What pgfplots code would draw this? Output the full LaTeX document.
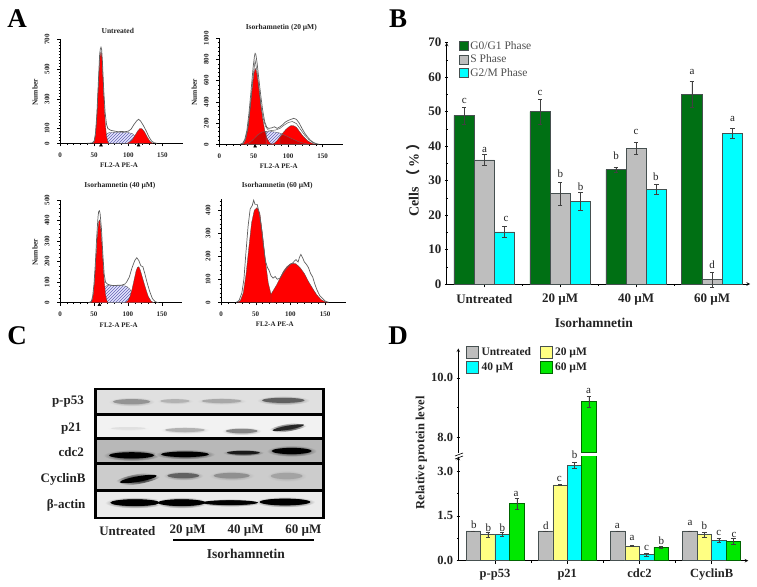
\documentclass[border=0pt]{standalone}
\usepackage{fontspec}
\setmainfont{Liberation Serif}
\newfontfamily\cjk{Noto Sans CJK SC}
\usepackage{pgfplots}
\pgfplotsset{compat=1.18}
\usetikzlibrary{patterns}
\newcommand\fs[1]{\fontsize{#1}{#1}\selectfont}
\definecolor{barG}{RGB}{0,112,20}
\definecolor{barS}{RGB}{190,190,190}
\definecolor{barC}{RGB}{0,255,255}
\definecolor{barY}{RGB}{255,255,130}
\definecolor{barL}{RGB}{0,232,0}
\definecolor{edge}{RGB}{70,80,80}
\definecolor{hatch}{RGB}{100,100,180}
\definecolor{txt}{RGB}{35,35,35}

\pgfplotsset{
  flow/.style={
    scale only axis, clip=false,
    axis x line=bottom, axis y line=left, axis line style={-,black,line width=.5pt},
    xmin=0, xmax=180, xtick={0,50,100,150}, minor x tick num=4,
    tick align=outside, major tick length=3pt, minor tick length=1.5pt,
    tick style={black,line width=.4pt},
    ymin=0,
    tick label style={font=\fs{7}\bfseries,text=txt},
    xticklabel style={yshift=-3pt},
    yticklabel style={rotate=90,anchor=south,yshift=4pt},
    /pgf/number format/assume math mode=true,
    /pgf/number format/1000 sep={},
    xlabel={FL2-A PE-A},
    xlabel style={font=\fs{7}\bfseries,text=txt,at={(rel axis cs:0.48,0)},anchor=center,yshift=-22pt},
    ylabel style={font=\fs{7.5}\bfseries,text=txt,at={(rel axis cs:0,0.49)},anchor=center,yshift=25pt},
    title style={font=\fs{7.5}\bfseries,text=txt,at={(rel axis cs:0.47,1)},anchor=center,yshift=3pt},
  },
  outline/.style={gray!75!black,line width=.7pt},
  redpk/.style={fill=red,draw=black!70,line width=.3pt},
  sband/.style={pattern=north east lines,pattern color=hatch,draw=black!70,line width=.3pt},
  sunder/.style={fill=blue!10,draw=none},
  stint/.style={fill=black,fill opacity=.16,draw=black!60,line width=.3pt},
  tri/.style={only marks,mark=triangle*,mark size=1.7pt,black},
  barax/.style={
    scale only axis, axis line style={-,black,line width=.6pt},
    tick align=outside, major tick length=3.5pt, minor tick length=2pt,
    tick style={black,line width=.5pt},
    tick label style={font=\fs{13}\bfseries,text=txt},
    /pgf/number format/assume math mode=true,
  },
  ebar/.style={error bars/.cd,y dir=both,y explicit,
    error bar style={gray!50!black,line width=.4pt},
    error mark options={rotate=90,mark size=2.2pt,gray!50!black,line width=.4pt}},
}
\newcommand\ltr[3]{\node[font=\fs{11},text=txt] at (axis cs:#1,#2) {#3};}
\newcommand\band[7]{%
  \shade[rotate around={#5:(#1,#2)},inner color=#6,outer color=#7] (#1,#2) ellipse (#3 and #4);
  \fill[rotate around={#5:(#1,#2)},#6] (#1,#2) ellipse ({0.8*#3} and {0.55*#4});}

\begin{document}
\begin{tikzpicture}[x=1pt,y=1pt]
\useasboundingbox (0,0) rectangle (757pt,586pt);

% A: flow histograms
\begin{axis}[flow,at={(60pt,442.7pt)},anchor=south west,width=123pt,height=103.8pt,
  ymax=700,ytick={0,100,300,500,700},minor ytick={0,20,...,700},title={Untreated},ylabel={Number}]
\addplot[sunder] coordinates {(62,0)(64,10)(66,35)(68,62)(72,72)(80,74)(90,74)(100,72)(106,65)(110,45)(114,20)(118,5)(122,0)} \closedcycle;
\addplot[sband] coordinates {(62,0)(64,10)(66,35)(68,62)(72,72)(80,74)(90,74)(100,72)(106,65)(110,45)(114,20)(118,5)(122,0)} \closedcycle;
\addplot[redpk] coordinates {(48,0)(50,10)(52,60)(54,190)(56,380)(58,560)(59.5,610)(60,617)(61,600)(62,520)(64,320)(66,150)(68,50)(70,10)(72,0)} \closedcycle;
\addplot[redpk] coordinates {(98,0)(102,8)(106,25)(110,55)(114,85)(117,100)(120,98)(124,75)(128,40)(132,12)(136,0)} \closedcycle;
\addplot[outline] coordinates {(40,0)(47,2)(50,15)(52,70)(54,200)(56,400)(58,600)(59,635)(60,648)(61,630)(62,560)(64,360)(66,210)(68,130)(70,100)(74,88)(80,82)(85,78)(90,80)(95,78)(100,82)(104,95)(108,125)(112,150)(115,162)(118,150)(122,120)(126,85)(130,45)(134,15)(138,3)(142,0)};
\addplot[tri] coordinates {(60,-13)(115,-13)};
\end{axis}

\begin{axis}[flow,at={(219.3pt,441.7pt)},anchor=south west,width=124pt,height=106pt,
  ymax=1000,ytick={0,200,...,1000},minor ytick={0,40,...,1000},title={Isorhamnetin (20 µM)},ylabel={Number},
  title style={at={(rel axis cs:0.5,1)},yshift=2pt}]
\addplot[sunder] coordinates {(38,0)(44,15)(50,50)(56,90)(62,115)(68,122)(75,120)(85,112)(92,95)(100,70)(108,45)(116,22)(124,8)(130,0)} \closedcycle;
\addplot[sband] coordinates {(38,0)(44,15)(50,50)(56,90)(62,115)(68,122)(75,120)(85,112)(92,95)(100,70)(108,45)(116,22)(124,8)(130,0)} \closedcycle;
\addplot[redpk] coordinates {(32,0)(35,5)(38,40)(41,130)(44,290)(47,480)(50,660)(52,717)(54,690)(57,560)(60,390)(63,240)(66,130)(69,60)(72,25)(75,5)(78,0)} \closedcycle;
\addplot[redpk] coordinates {(76,0)(80,10)(84,35)(88,70)(92,105)(96,135)(100,160)(104,176)(108,175)(112,160)(116,125)(120,90)(124,60)(128,35)(132,18)(136,6)(140,0)} \closedcycle;
\addplot[stint] coordinates {(38,0)(44,15)(50,50)(56,90)(62,115)(68,122)} \closedcycle;
\addplot[stint] coordinates {(88,70)(92,95)(100,70)(108,45)(116,22)(124,8)(130,0)} \closedcycle;
\addplot[gray!70!black,line width=.5pt] coordinates {(34,8)(38,50)(42,170)(46,420)(49,640)(52,790)(55,680)(58,500)(61,340)(64,240)(67,170)(71,135)(76,130)(82,135)(88,150)(94,180)(100,205)(106,215)(112,195)(118,140)(124,85)(130,45)(136,15)(142,0)};
\addplot[outline] coordinates {(30,0)(34,10)(37,45)(40,130)(43,290)(46,500)(49,720)(51,830)(52,858)(53,850)(55,760)(57,640)(60,470)(63,320)(66,210)(69,160)(72,150)(76,155)(80,165)(84,150)(88,165)(92,185)(96,210)(100,225)(104,235)(108,245)(112,235)(116,200)(120,150)(124,105)(128,70)(132,40)(136,20)(140,8)(145,0)};
\addplot[tri] coordinates {(52,-19)};
\end{axis}

\begin{axis}[flow,at={(60pt,283.3pt)},anchor=south west,width=122.3pt,height=102.7pt,
  ymax=500,ytick={0,100,...,500},minor ytick={0,20,...,500},title={Isorhamnetin (40 µM)},ylabel={Number},
  title style={at={(rel axis cs:0.49,1)},yshift=5pt}]
\addplot[sunder] coordinates {(58,0)(60,15)(62,50)(65,78)(70,84)(80,84)(90,84)(98,80)(103,65)(107,40)(112,18)(117,5)(122,0)} \closedcycle;
\addplot[sband] coordinates {(58,0)(60,15)(62,50)(65,78)(70,84)(80,84)(90,84)(98,80)(103,65)(107,40)(112,18)(117,5)(122,0)} \closedcycle;
\addplot[redpk] coordinates {(44,0)(47,8)(49,40)(51,110)(53,220)(55,330)(57,395)(58,403)(59,395)(61,320)(63,210)(65,110)(67,40)(69,10)(71,0)} \closedcycle;
\addplot[redpk] coordinates {(96,0)(100,10)(103,30)(106,65)(109,110)(112,155)(114,172)(116,175)(118,160)(122,115)(126,70)(130,30)(134,8)(138,0)} \closedcycle;
\addplot[outline] coordinates {(42,0)(46,6)(48,30)(50,90)(52,190)(54,320)(56,420)(57,445)(58,448)(59,435)(61,360)(63,240)(65,140)(67,100)(70,90)(75,85)(80,83)(85,85)(90,85)(95,90)(98,100)(102,125)(106,170)(110,205)(113,219)(116,205)(119,180)(122,175)(125,140)(128,100)(132,55)(136,20)(140,5)(145,0)};
\addplot[tri] coordinates {(58,-10)};
\end{axis}

\begin{axis}[flow,at={(221pt,283.7pt)},anchor=south west,width=125pt,height=103pt,
  ymax=447,ytick={0,100,...,400},minor ytick={0,20,...,440},title={Isorhamnetin (60 µM)},
  title style={at={(rel axis cs:0.45,1)},yshift=5pt},
  xlabel style={at={(rel axis cs:0.43,0)}}]
\addplot[redpk] coordinates {(24,0)(28,8)(32,40)(36,120)(40,235)(44,345)(48,400)(52,411)(56,385)(60,290)(64,180)(68,85)(72,35)(74,20)(76,0)} \closedcycle;
\addplot[redpk] coordinates {(72,0)(72,35)(76,55)(80,75)(85,105)(90,135)(95,155)(100,167)(104,169)(108,167)(114,150)(120,125)(126,90)(132,60)(138,32)(144,12)(150,2)(154,0)} \closedcycle;
\addplot[outline] coordinates {(22,0)(26,8)(30,40)(33,100)(36,220)(39,330)(42,405)(45,420)(47,443)(49,425)(52,425)(55,390)(58,330)(61,250)(64,180)(67,150)(69,140)(72,115)(75,105)(78,112)(81,100)(85,105)(90,130)(95,150)(100,165)(103,170)(106,180)(108,185)(111,175)(113,195)(115,208)(118,190)(120,175)(123,165)(126,150)(129,125)(132,110)(135,80)(138,55)(142,30)(146,17)(150,5)(155,0)};
\end{axis}

% B: cell cycle bars
\begin{axis}[barax,clip=false,at={(446.7pt,302pt)},anchor=south west,width=303.3pt,height=241.3pt,
  axis x line=bottom,axis y line=left,
  xmin=-0.496,xmax=3.5,ymin=0,ymax=70,
  xtick={0,1,2,3},xticklabels={Untreated,20 µM,40 µM,60 µM},minor x tick num=1,
  ytick={0,10,...,70},minor y tick num=1,
  ybar=0pt,bar width=20.25pt,
  xticklabel style={yshift=-3pt},
  xlabel={Isorhamnetin},ylabel={Cells {\cjk （}\,\%\,{\cjk ）}},
  xlabel style={font=\fs{13.5}\bfseries,text=txt,at={(rel axis cs:0.485,0)},anchor=center,yshift=-39pt},
  ylabel style={font=\fs{14}\bfseries,text=txt,at={(rel axis cs:0,0.444)},anchor=center,yshift=33.5pt},
  legend style={at={(axis cs:-0.34,70.7)},anchor=north west,draw=none,fill=none,
    font=\fs{11.5},text=txt!80,inner sep=0pt,outer sep=0pt,row sep=2pt,
    nodes={inner xsep=2pt,inner ysep=1pt}},
  legend cell align=left,
  legend image code/.code={\draw[#1] (0pt,-4.6pt) rectangle (9.3pt,4.6pt);},
]
\addplot[fill=barG,draw=edge,line width=.5pt,ebar] coordinates {(0,48.9)+-(0,2.4) (1,50)+-(0,3.5) (2,33.2)+-(0,0.7) (3,55)+-(0,3.7)};
\addplot[fill=barS,draw=edge,line width=.5pt,ebar] coordinates {(0,36)+-(0,1.6) (1,26.2)+-(0,3.2) (2,39.3)+-(0,1.7) (3,1.3)+-(0,2.1)};
\addplot[fill=barC,draw=edge,line width=.5pt,ebar] coordinates {(0,15.1)+-(0,1.6) (1,23.9)+-(0,2.6) (2,27.5)+-(0,1.4) (3,43.8)+-(0,1.4)};
\legend{G0/G1 Phase,S Phase,G2/M Phase}
\ltr{-0.263}{53.1}{c}\ltr{0.004}{38.9}{a}\ltr{0.285}{19}{c}
\ltr{0.733}{55.3}{c}\ltr{1}{32}{b}\ltr{1.27}{28.2}{b}
\ltr{1.735}{37.1}{b}\ltr{2}{44}{c}\ltr{2.26}{31.1}{b}
\ltr{2.736}{61.4}{a}\ltr{3}{5.5}{d}\ltr{3.27}{47.9}{a}
\end{axis}

% D: protein levels, broken axis
\begin{axis}[barax,at={(458.3pt,25.3pt)},anchor=south west,width=290pt,height=104pt,
  axis x line=bottom,axis y line=left,
  xmin=-0.508,xmax=3.507,ymin=0,ymax=3.48,
  xtick={0,1,2,3},xticklabels={p-p53,p21,cdc2,CyclinB},minor x tick num=1,
  ytick={0,1.5,3},minor y tick num=1,
  /pgf/number format/fixed,/pgf/number format/zerofill,/pgf/number format/precision=1,
  ybar=0pt,bar width=14.47pt,
  xticklabel style={yshift=-1pt},
  tick label style={font=\fs{12.5}\bfseries,text=txt},
  after end axis/.code={
    \ltr{-0.291}{1.19}{b}\ltr{-0.092}{1.115}{b}\ltr{0.102}{1.10}{b}\ltr{0.291}{2.23}{a}
    \ltr{0.706}{1.16}{d}\ltr{0.891}{2.75}{c}\ltr{1.103}{3.55}{b}
    \ltr{1.694}{1.16}{a}\ltr{1.897}{0.747}{a}\ltr{2.1}{0.424}{c}\ltr{2.303}{0.658}{b}
    \ltr{2.7}{1.27}{a}\ltr{2.898}{1.16}{b}\ltr{3.1}{0.914}{c}\ltr{3.31}{0.859}{c}
  },
]
\addplot[fill=barS,draw=edge,line width=.5pt,ebar] coordinates {(0,1)+-(0,0) (1,1)+-(0,0) (2,1)+-(0,0) (3,1)+-(0,0)};
\addplot[fill=barY,draw=edge,line width=.5pt,ebar] coordinates {(0,0.88)+-(0,0.09) (1,2.54)+-(0,0.02) (2,0.5)+-(0,0.03) (3,0.88)+-(0,0.08)};
\addplot[fill=barC,draw=edge,line width=.5pt,ebar] coordinates {(0,0.89)+-(0,0.06) (1,3.2)+-(0,0.1) (2,0.2)+-(0,0.04) (3,0.69)+-(0,0.06)};
\addplot[fill=barL,draw=green!40!black,line width=.5pt,ebar] coordinates {(0,1.91)+-(0,0.19) (1,9.2)+-(0,0.18) (2,0.45)+-(0,0.03) (3,0.65)+-(0,0.1)};
\end{axis}

\begin{axis}[barax,at={(458.3pt,133.3pt)},anchor=south west,width=290pt,height=104.3pt,
  axis x line=none,axis y line=left,
  xmin=-0.508,xmax=3.507,ymin=7.5,ymax=10.98,
  ytick={8,10},minor y tick num=1,
  /pgf/number format/fixed,/pgf/number format/zerofill,/pgf/number format/precision=1,
  tick label style={font=\fs{12.5}\bfseries,text=txt},
  ylabel={Relative protein level},
  ylabel style={font=\fs{12.5}\bfseries,text=txt,at={(rel axis cs:0,0)},anchor=center,yshift=37pt},
  legend style={at={(axis cs:-0.40,11.05)},anchor=north west,draw=none,fill=none,
    font=\fs{11.5}\bfseries,text=txt,inner sep=0pt,outer sep=0pt,row sep=2pt,
    /tikz/every even column/.append style={column sep=6pt},
    nodes={inner xsep=2.5pt,inner ysep=1pt}},
  legend columns=2,legend cell align=left,
  legend image code/.code={\draw[#1,line width=.6pt] (0pt,-6pt) rectangle (12.3pt,6pt);},
  after end axis/.code={\ltr{1.297}{9.57}{a}},
]
\addplot[forget plot,ybar,bar width=14.47pt,bar shift=0pt,fill=barL,draw=green!40!black,line width=.5pt,ebar] coordinates {(1.3,9.2)+-(0,0.18)};
\addlegendimage{fill=barS,draw=edge}\addlegendentry{Untreated}
\addlegendimage{fill=barY,draw=edge}\addlegendentry{20 µM}
\addlegendimage{fill=barC,draw=edge}\addlegendentry{40 µM}
\addlegendimage{fill=barL,draw=green!40!black}\addlegendentry{60 µM}
\end{axis}

% panel letters, break mark and the western blot, in reference pixels
\begin{scope}[x=1pt,y=-1pt,yshift=586pt]
\foreach \x/\y/\t in {17/19/A,398/19/B,17/336/C,398/336/D}
  \node[font=\fs{27}\bfseries] at (\x,\y) {\t};
\draw[line width=.6pt] (455,456) -- (463,453);
\draw[line width=.6pt] (455,459) -- (463,456);
\end{scope}

\begin{scope}[x=0.33333pt,y=-0.33333pt,yshift=266pt]
\fill[black] (283,203) rectangle (975,598);
\fill[black!12] (291,209) rectangle (965,280);
\band{395}{245}{70}{14}{0}{black!42}{black!12}
\band{525}{243}{55}{10}{0}{black!30}{black!12}
\band{665}{243}{75}{11}{0}{black!34}{black!12}
\band{850}{241}{80}{14}{0}{black!62}{black!12}
\fill[black!5] (291,288) rectangle (965,352);
\band{385}{325}{65}{7}{0}{black!12}{black!5}
\band{555}{330}{75}{11}{0}{black!30}{black!5}
\band{725}{333}{60}{12}{0}{black!48}{black!5}
\band{865}{323}{60}{11}{10}{black!85}{black!5}
\fill[black!28] (291,361) rectangle (965,426);
\band{395}{406}{85}{17}{0}{black}{black!28}
\band{555}{403}{90}{15}{0}{black}{black!28}
\band{730}{398}{62}{10}{0}{black!90}{black!28}
\band{875}{393}{75}{17}{0}{black}{black!28}
\fill[black!20] (291,436) rectangle (965,506);
\band{415}{477}{70}{15}{10}{black}{black!20}
\band{550}{467}{60}{14}{0}{black!62}{black!20}
\band{695}{467}{68}{15}{0}{black!44}{black!20}
\band{860}{468}{60}{17}{0}{black!36}{black!20}
\fill[black!8] (291,517) rectangle (965,590);
\band{405}{548}{90}{17}{0}{black}{black!8}
\band{545}{548}{80}{17}{0}{black}{black!8}
\band{690}{548}{95}{12}{0}{black}{black!8}
\band{855}{546}{90}{16}{0}{black}{black!8}
\fill[black] (405,548) ellipse (74 and 10);
\fill[black] (545,548) ellipse (72 and 10);
\fill[black] (690,548) ellipse (84 and 7);
\fill[black] (855,546) ellipse (76 and 10);
\begin{scope}[every node/.style={font=\fs{13}\bfseries,text=txt,inner sep=0pt}]
\node[anchor=east] at (252,245) {p-p53};
\node[anchor=east] at (245,325) {p21};
\node[anchor=east] at (252,397) {cdc2};
\node[anchor=east] at (257,478) {CyclinB};
\node[anchor=east] at (257,557) {β-actin};
\node at (382,633) {Untreated};
\node at (563,633) {20 µM};
\node at (737,633) {40 µM};
\node at (910,633) {60 µM};
\node[font=\fs{13.5}\bfseries] at (738,703) {Isorhamnetin};
\end{scope}
\draw[line width=1.6pt] (520,660) -- (943,660);
\end{scope}
\end{tikzpicture}
\end{document}
